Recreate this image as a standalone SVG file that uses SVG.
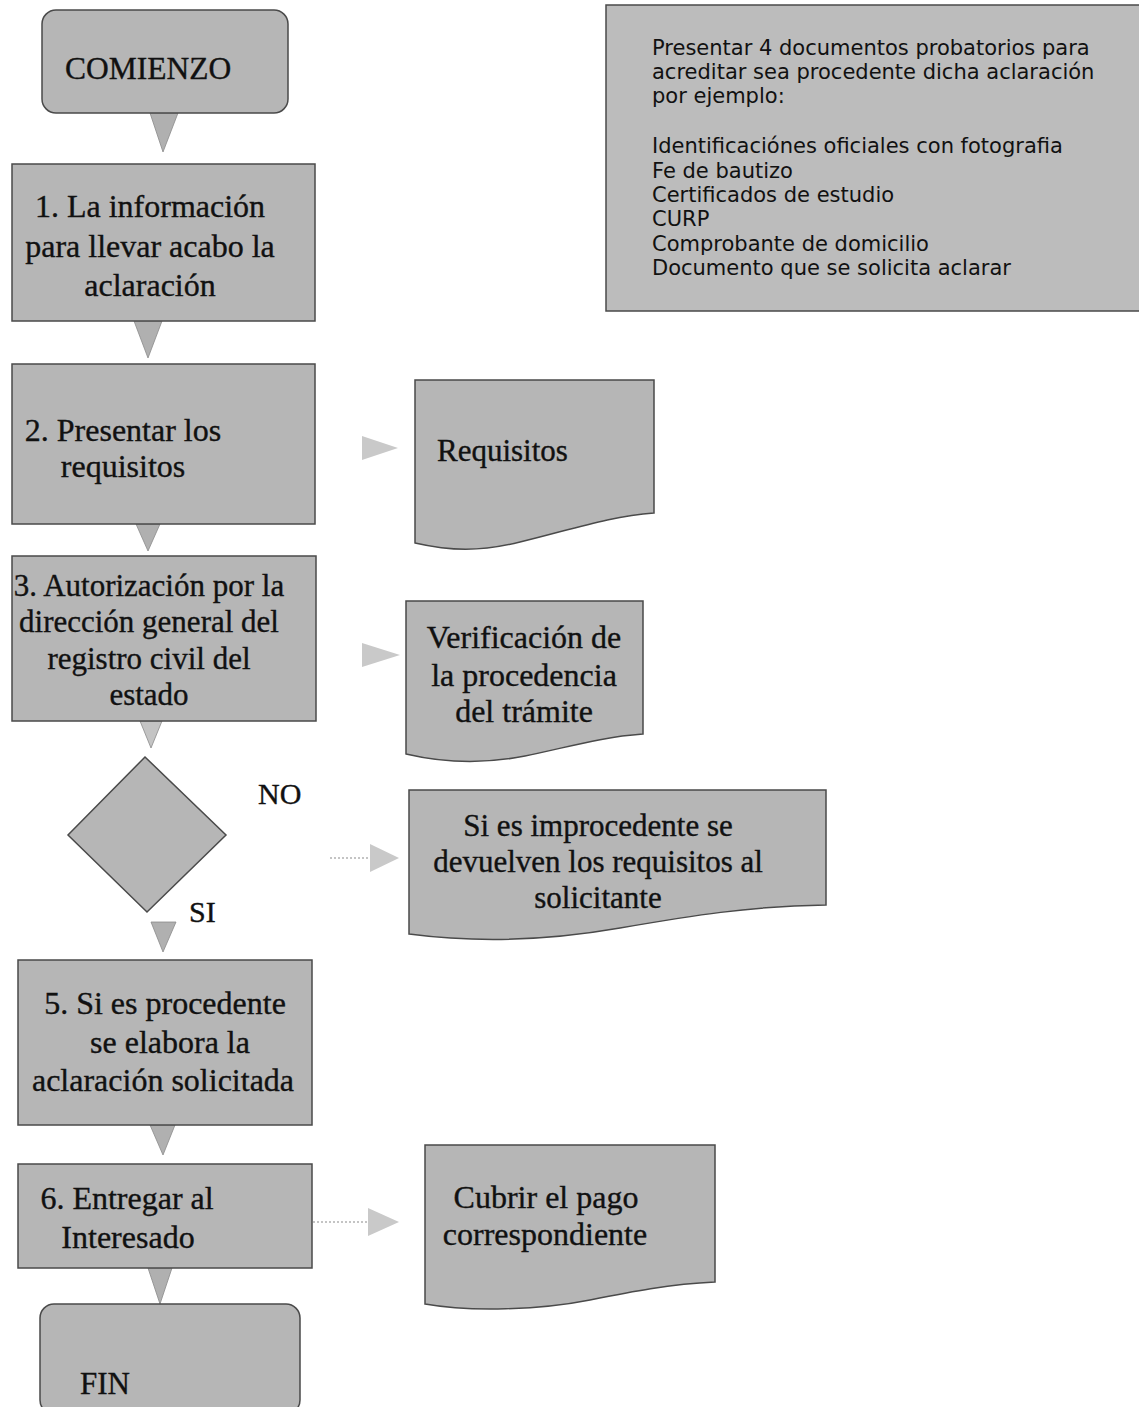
<svg xmlns="http://www.w3.org/2000/svg" width="1139" height="1407" viewBox="0 0 1139 1407">
<style>
.box{fill:#b6b6b6;stroke:#4a4a4a;stroke-width:1.5}
.t{font-family:"Liberation Serif","Times New Roman",serif;font-size:32px;fill:#111;stroke:#111;stroke-width:0.35}
.c{text-anchor:middle}
.n{font-family:"DejaVu Sans",Verdana,sans-serif;font-size:21px;fill:#111}
.tri{fill:#b0b0b0;stroke:#8a8a8a;stroke-width:0.8}
.rtri{fill:#c9c9c9;stroke:none}
.dot{stroke:#8a8a8a;stroke-width:1.2;stroke-dasharray:2 2;fill:none}
</style>
<rect width="1139" height="1407" fill="#ffffff"/>

<g id="connectors">
  <polygon class="tri" points="150,113 178,113 163,152"/>
  <polygon class="tri" points="134,321 162,321 148,358"/>
  <polygon class="tri" points="136,524 160,524 148,551"/>
  <polygon class="tri" points="140,721 162,721 151,748" style="fill:#c4c4c4"/>
  <polygon class="tri" points="151,922 176,922 163,952"/>
  <polygon class="tri" points="150,1125 175,1125 163,1155"/>
  <polygon class="tri" points="148,1268 172,1268 160,1304"/>
  <polygon class="rtri" points="362,436 362,460 398,448"/>
  <polygon class="rtri" points="362,643 362,667 400,655"/>
  <line class="dot" x1="330" y1="858" x2="370" y2="858"/>
  <polygon class="rtri" points="370,844 370,872 399,858"/>
  <line class="dot" x1="313" y1="1222" x2="368" y2="1222"/>
  <polygon class="rtri" points="368,1208 368,1236 399,1222"/>
</g>

<g id="comienzo">
  <rect class="box" x="42" y="10" width="246" height="103" rx="14"/>
  <text class="t" x="65" y="79" style="font-size:31.5px">COMIENZO</text>
</g>

<g id="nota">
  <rect class="box" x="606" y="5" width="540" height="306" style="fill:#bcbcbc"/>
  <text class="n" x="652" y="55">Presentar 4 documentos probatorios para</text>
  <text class="n" x="652" y="79">acreditar sea procedente dicha aclaración</text>
  <text class="n" x="652" y="103">por ejemplo:</text>
  <text class="n" x="652" y="153">Identificaciónes oficiales con fotografia</text>
  <text class="n" x="652" y="178">Fe de bautizo</text>
  <text class="n" x="652" y="202">Certificados de estudio</text>
  <text class="n" x="652" y="226">CURP</text>
  <text class="n" x="652" y="251">Comprobante de domicilio</text>
  <text class="n" x="652" y="275">Documento que se solicita aclarar</text>
</g>

<g id="paso1">
  <rect class="box" x="12" y="164" width="303" height="157"/>
  <text class="t c" x="150" y="217">1. La información</text>
  <text class="t c" x="150" y="257">para llevar acabo la</text>
  <text class="t c" x="150" y="296">aclaración</text>
</g>

<g id="paso2">
  <rect class="box" x="12" y="364" width="303" height="160"/>
  <text class="t c" x="123" y="441">2. Presentar los</text>
  <text class="t c" x="123" y="477">requisitos</text>
</g>

<g id="requisitos">
  <path class="box" d="M415,380 H654 V513 C610,516 570,530 520,542 C480,552 450,551 415,543 Z"/>
  <text class="t" x="437" y="461" style="font-size:31px">Requisitos</text>
</g>

<g id="paso3">
  <rect class="box" x="12" y="556" width="304" height="165"/>
  <text class="t c" x="149" y="596" style="font-size:31px">3. Autorización por la</text>
  <text class="t c" x="149" y="632" style="font-size:31px">dirección general del</text>
  <text class="t c" x="149" y="669" style="font-size:31px">registro civil del</text>
  <text class="t c" x="149" y="705" style="font-size:31px">estado</text>
</g>

<g id="verificacion">
  <path class="box" d="M406,601 H643 V734 C600,737 565,748 525,756 C480,765 440,762 406,754 Z"/>
  <text class="t c" x="524" y="648">Verificación de</text>
  <text class="t c" x="524" y="686">la procedencia</text>
  <text class="t c" x="524" y="722">del trámite</text>
</g>

<g id="decision">
  <polygon class="box" points="145,757 226,835 147,912 68,835"/>
  <text class="t" x="258" y="804" style="font-size:30px">NO</text>
  <text class="t" x="189" y="922" style="font-size:30px">SI</text>
</g>

<g id="improcedente">
  <path class="box" d="M409,790 H826 V905 C750,906 690,916 620,928 C540,942 470,942 409,934 Z"/>
  <text class="t c" x="598" y="836" style="font-size:31px">Si es improcedente se</text>
  <text class="t c" x="598" y="872" style="font-size:31px">devuelven los requisitos al</text>
  <text class="t c" x="598" y="908" style="font-size:31px">solicitante</text>
</g>

<g id="paso5">
  <rect class="box" x="18" y="960" width="294" height="165"/>
  <text class="t c" x="165" y="1014">5. Si es procedente</text>
  <text class="t c" x="170" y="1053">se elabora la</text>
  <text class="t c" x="163" y="1091">aclaración solicitada</text>
</g>

<g id="paso6">
  <rect class="box" x="18" y="1164" width="294" height="104"/>
  <text class="t c" x="127" y="1209">6. Entregar al</text>
  <text class="t c" x="128" y="1248">Interesado</text>
</g>

<g id="pago">
  <path class="box" d="M425,1145 H715 V1282 C670,1284 630,1292 590,1300 C540,1310 470,1312 425,1304 Z"/>
  <text class="t c" x="546" y="1208">Cubrir el pago</text>
  <text class="t c" x="545" y="1245">correspondiente</text>
</g>

<g id="fin">
  <rect class="box" x="40" y="1304" width="260" height="110" rx="14"/>
  <text class="t" x="80" y="1394" style="font-size:31px">FIN</text>
</g>
</svg>
